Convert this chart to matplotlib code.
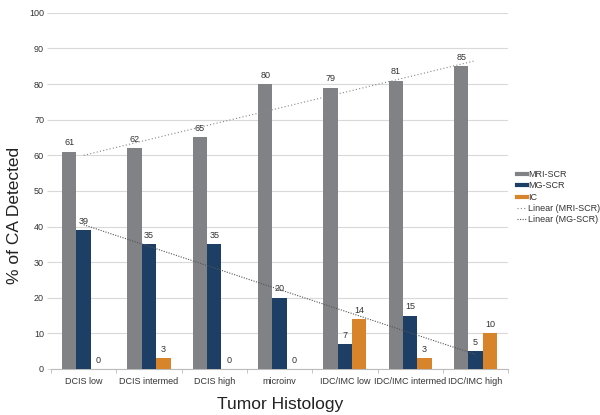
import matplotlib
matplotlib.use("Agg")
import matplotlib.pyplot as plt
import numpy as np
from matplotlib.lines import Line2D

plt.rcParams["font.family"] = ["Liberation Sans", "DejaVu Sans"]

categories = ["DCIS low", "DCIS intermed", "DCIS high", "microinv",
              "IDC/IMC low", "IDC/IMC intermed", "IDC/IMC high"]
mri_scr = [61, 62, 65, 80, 79, 81, 85]
mg_scr = [39, 35, 35, 20, 7, 15, 5]
ic = [0, 3, 0, 0, 14, 3, 10]
yticks = [0, 10, 20, 30, 40, 50, 60, 70, 80, 90, 100]

c_grey = "#808285"
c_blue = "#1d3f66"
c_orange = "#d8842a"

fig = plt.figure(figsize=(6, 4.15), dpi=100)
ax = fig.add_axes([0.085, 0.111, 0.762, 0.858])

x = np.arange(len(categories))
w = 0.22
series = [(mri_scr, c_grey, -w), (mg_scr, c_blue, 0), (ic, c_orange, w)]
for vals, col, off in series:
    bars = ax.bar(x + off, vals, width=w, color=col, zorder=3)
    for b, v in zip(bars, vals):
        ax.text(b.get_x() + b.get_width() / 2, v + 1.2, str(v), ha="center",
                va="bottom", fontsize=6.5, color="#333333", zorder=5)

# linear trend lines
for vals, col, ls in [(mri_scr, "#888888", (0, (1, 2))), (mg_scr, "#555555", (0, (1, 1.3)))]:
    p = np.polyfit(x, vals, 1)
    ax.plot(x, np.polyval(p, x), color=col, lw=0.8, linestyle=ls, zorder=4)

ax.set_xlim(-0.5, len(categories) - 0.5)
ax.set_ylim(0, 100)
ax.set_yticks(yticks)
ax.set_yticklabels([str(t) for t in yticks])
ax.yaxis.grid(True, color="#d9d9d9", lw=0.8, zorder=0)
ax.tick_params(axis="y", length=3, color="#d9d9d9", labelsize=6.5, labelcolor="#333333", pad=2)
ax.set_xticks(x)
ax.set_xticklabels(categories)
ax.tick_params(axis="x", length=0, labelsize=6.5, labelcolor="#333333", pad=6)
ax.set_xticks(np.arange(-0.5, len(categories), 1), minor=True)
ax.tick_params(axis="x", which="minor", length=3, color="#bbbbbb")
for s in ["top", "right", "left"]:
    ax.spines[s].set_visible(False)
ax.spines["bottom"].set_color("#bbbbbb")
ax.spines["bottom"].set_linewidth(0.8)

fig.text(15 / 600, 1 - 215 / 415, "% of CA Detected", rotation=90, fontsize=12.5,
         color="#222222", ha="center", va="center")
fig.text(280 / 600, 1 - 404 / 415, "Tumor Histology", fontsize=12.5,
         color="#222222", ha="center", va="center")

handles = [
    Line2D([], [], color=c_grey, lw=3),
    Line2D([], [], color=c_blue, lw=3),
    Line2D([], [], color=c_orange, lw=3),
    Line2D([], [], color="#888888", lw=0.8, linestyle=(0, (1, 2))),
    Line2D([], [], color="#555555", lw=0.8, linestyle=(0, (1, 1.3))),
]
labels = ["MRI-SCR", "MG-SCR", "IC", "Linear (MRI-SCR)", "Linear (MG-SCR)"]
fig.legend(handles, labels, loc="upper left", bbox_to_anchor=(0.862, 0.59),
           frameon=False, fontsize=6.5, handlelength=1.1, handletextpad=0.15,
           labelspacing=0.25, borderaxespad=0, borderpad=0, labelcolor="#333333")

fig.savefig("out.png", dpi=100)
